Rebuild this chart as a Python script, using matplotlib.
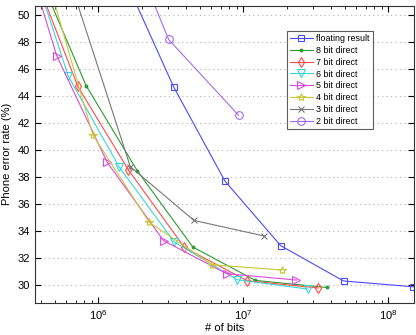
import matplotlib
matplotlib.use("Agg")
import matplotlib.pyplot as plt
from matplotlib.ticker import LogLocator, NullFormatter, MultipleLocator

plt.rcParams['font.family'] = ['Liberation Sans', 'DejaVu Sans']

labels = ["floating result", "8 bit direct", "7 bit direct", "6 bit direct",
          "5 bit direct", "4 bit direct", "3 bit direct", "2 bit direct"]

float_x = [1.55e6, 3.30e6, 7.45e6, 1.81e7, 4.91e7, 1.49e8]
float_y = [52.5, 44.70, 37.73, 32.94, 30.33, 29.90]

b8_x = [3.67e5, 8.22e5, 1.85e6, 4.48e6, 1.21e7, 3.75e7]
b8_y = [53.6, 44.79, 38.50, 32.84, 30.37, 29.85]

b7_x = [3.2e5, 7.2e5, 1.61e6, 3.92e6, 1.06e7, 3.28e7]
b7_y = [54.5, 44.74, 38.55, 32.81, 30.35, 29.81]

b6_x = [2.77e5, 6.2e5, 1.39e6, 3.34e6, 9.08e6, 2.79e7]
b6_y = [57.0, 45.48, 38.77, 33.21, 30.42, 29.73]

b5_x = [2.3e5, 5.15e5, 1.15e6, 2.82e6, 7.66e6, 2.32e7]
b5_y = [59.4, 47.01, 39.11, 33.31, 30.87, 30.40]

b4_x = [3.7e5, 9.15e5, 2.24e6, 6.1e6, 1.86e7]
b4_y = [55.7, 41.14, 34.67, 31.53, 31.14]

b3_x = [6.0e5, 1.66e6, 4.56e6, 1.39e7]
b3_y = [53.4, 38.79, 34.81, 33.66]

b2_x = [1.0e6, 3.05e6, 9.27e6]
b2_y = [60.9, 48.2, 42.59]

series = [(float_x, float_y), (b8_x, b8_y), (b7_x, b7_y), (b6_x, b6_y),
          (b5_x, b5_y), (b4_x, b4_y), (b3_x, b3_y), (b2_x, b2_y)]
colors = ['#4a4aff', '#2e9a2e', '#ff4a4a', '#3ad6d6', '#dd4add',
          '#c8c83a', '#777777', '#a66af0']
markers = ['s', '.', 'd', 'v', '>', '*', 'x', 'o']
msizes = [5, 4, 5.5, 6, 6, 6, 5, 5.5]

fig = plt.figure(figsize=(4.16, 3.35), dpi=100)
ax = fig.add_axes([0.084, 0.0955, 0.911, 0.8875])

for (xs, ys), lab, c, m, ms in zip(series, labels, colors, markers, msizes):
    face = c if m == '.' else 'none'
    ax.plot(xs, ys, color=c, marker=m, markersize=ms, markerfacecolor=face,
            markeredgecolor=c, markeredgewidth=0.8, linewidth=0.8, label=lab)

ax.set_xscale('log')
ax.set_xlim(3.65e5, 1.5e8)
ax.set_ylim(28.7, 50.7)
ax.yaxis.set_major_locator(MultipleLocator(2))
ax.xaxis.set_major_locator(LogLocator(base=10, numticks=10))
ax.xaxis.set_minor_locator(LogLocator(base=10, subs=range(2, 10), numticks=20))
ax.xaxis.set_minor_formatter(NullFormatter())

ax.grid(True, axis='y', linestyle=(0, (1, 3)), color='#b0b0b0', linewidth=0.8)
ax.tick_params(which='both', direction='in', top=True, right=True, labelsize=8)
ax.tick_params(which='major', length=4)
ax.tick_params(which='minor', length=2)
for s in ax.spines.values():
    s.set_linewidth(0.8)
    s.set_color('#333333')

ax.set_xlabel('# of bits', fontsize=8, labelpad=1)
ax.set_ylabel('Phone error rate (%)', fontsize=8, labelpad=4)

leg = ax.legend(loc='upper left', bbox_to_anchor=(0.664, 0.915), fontsize=6.4,
                frameon=True, fancybox=False, edgecolor='#333333',
                handlelength=2.6, handletextpad=0.4, labelspacing=0.32,
                borderpad=0.35, borderaxespad=0)
leg.get_frame().set_linewidth(0.8)

fig.savefig('out.png', dpi=100)
